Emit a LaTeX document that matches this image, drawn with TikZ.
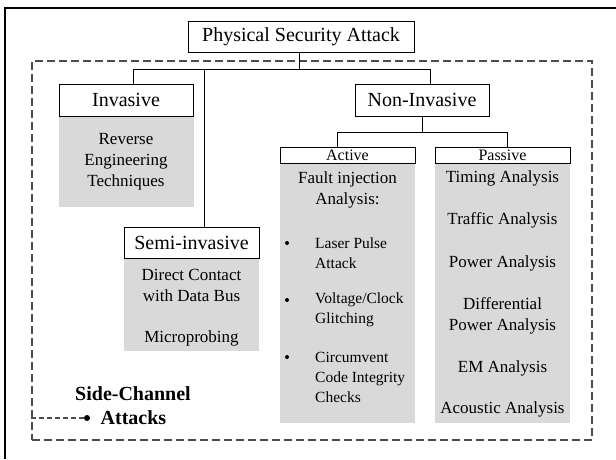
\documentclass[tikz,border=0pt]{standalone}
\usepackage{fontspec}
\setmainfont{Liberation Serif}

\begin{document}
\begin{tikzpicture}[x=1pt, y=-1pt,
	hdr/.style={draw, fill=white, inner sep=0pt, minimum width=134pt, minimum height=32pt, font=\fontsize{20}{22}\selectfont},
	sub/.style={draw, fill=white, inner sep=0pt, minimum width=135pt, minimum height=16pt, font=\fontsize{16}{16}\selectfont},
	shade/.style={fill=black!15, inner sep=0pt, minimum width=135pt},
	txt/.style={inner sep=0pt, align=center, font=\fontsize{17}{21}\selectfont},
	itm/.style={inner sep=0pt, anchor=west, align=left, font=\fontsize{15.5}{20}\selectfont},
	dot/.style={circle, fill=black, inner sep=0pt, minimum size=4pt}]

	\useasboundingbox (0,0) rectangle (616,459);
	\draw[line width=1.5pt] (616,8) -- (5,8) -- (5,459);

	\node (sca) [draw, black!70, line width=1.1pt, dash pattern=on 8pt off 4pt, inner sep=0pt, minimum width=560pt, minimum height=379pt] at (312,250.5) {};

	\node (invbg) [shade, minimum height=91pt] at (126,161.5) {};
	\node (semibg) [shade, minimum height=93pt] at (191.5,304.5) {};
	\node (actbg) [shade, minimum height=260pt] at (347.5,293) {};
	\node (pasbg) [shade, minimum height=260pt] at (502.5,293) {};

	\node (top) [hdr, minimum width=226pt, minimum height=31pt] at (301,36.5) {Physical Security Attack};
	\node (inv) [hdr] at (126,100) {Invasive};
	\node (noninv) [hdr] at (422,100) {Non-Invasive};
	\node (semi) [hdr, minimum width=135pt, minimum height=31pt] at (191.5,242.5) {Semi-invasive};
	\node (act) [sub] at (347.5,155) {Active};
	\node (pas) [sub] at (502.5,155) {Passive};

	\node (rev) [txt] at (126,162) {Reverse\\Engineering\\Techniques};
	\node (dcb) [txt] at (191.5,285.5) {Direct Contact\\with Data Bus};
	\node (mpr) [txt] at (191.5,338) {Microprobing};

	\node (fia) [txt] at (347.5,190) {Fault injection\\Analysis:};
	\node (b1) [dot] at (287,243) {};
	\node (b2) [dot] at (287,300) {};
	\node (b3) [dot] at (287,357) {};
	\node (lpa) [itm] at (315,253) {Laser Pulse\\Attack};
	\node (vcg) [itm] at (315,310) {Voltage/Clock\\Glitching};
	\node (cci) [itm] at (315,377) {Circumvent\\Code Integrity\\Checks};

	\node (tim) [txt] at (502.5,178) {Timing Analysis};
	\node (trf) [txt] at (502.5,220) {Traffic Analysis};
	\node (pwr) [txt] at (502.5,263) {Power Analysis};
	\node (dpa) [txt] at (502.5,315.5) {Differential\\Power Analysis};
	\node (ema) [txt] at (502.5,368) {EM Analysis};
	\node (aco) [txt] at (502.5,409) {Acoustic Analysis};

	\node (scname) [inner sep=0pt, font=\fontsize{20}{22}\selectfont\bfseries] at (133,394) {Side-Channel};
	\node (scatk) [inner sep=0pt, font=\fontsize{20}{22}\selectfont\bfseries] at (133.5,418) {Attacks};
	\node (scdot) [dot, minimum size=6pt] at (87,418) {};

	\coordinate (j0) at (299,69);
	\coordinate (j1) at (133,69);
	\coordinate (j2) at (430,69);
	\coordinate (j3) at (204,69);
	\coordinate (k0) at (422,132);
	\coordinate (k1) at (337,132);
	\coordinate (k2) at (507,132);

	\path[line width=0.9pt]
	(j0 |- top.south) edge (j0)
	(j1) edge (j2)
	(j1) edge (j1 |- inv.north)
	(j2) edge (j2 |- noninv.north)
	(j3) edge (j3 |- semi.north)
	(noninv.south) edge (k0)
	(k1) edge (k2)
	(k1) edge (k1 |- act.north)
	(k2) edge (k2 |- pas.north);

	\draw[black!70, line width=1.1pt, dash pattern=on 5pt off 3pt] (sca.west |- scdot) -- (scdot);

\end{tikzpicture}
\end{document}
